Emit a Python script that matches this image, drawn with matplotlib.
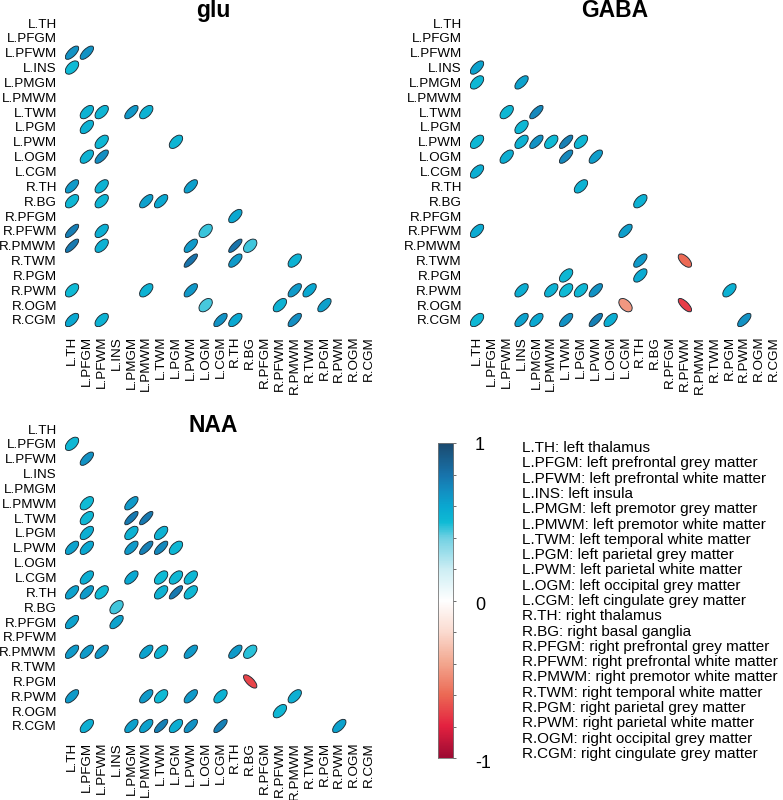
import numpy as np
import matplotlib
matplotlib.use('Agg')
import matplotlib.pyplot as plt
from matplotlib.patches import Ellipse
from matplotlib.colors import LinearSegmentedColormap

plt.rcParams['font.family'] = ['Liberation Sans', 'DejaVu Sans']

regions = ['L.TH', 'L.PFGM', 'L.PFWM', 'L.INS', 'L.PMGM', 'L.PMWM', 'L.TWM',
           'L.PGM', 'L.PWM', 'L.OGM', 'L.CGM', 'R.TH', 'R.BG', 'R.PFGM',
           'R.PFWM', 'R.PMWM', 'R.TWM', 'R.PGM', 'R.PWM', 'R.OGM', 'R.CGM']

descriptions = ['left thalamus', 'left prefrontal grey matter', 'left prefrontal white matter',
                'left insula', 'left premotor grey matter', 'left premotor white matter',
                'left temporal white matter', 'left parietal grey matter',
                'left parietal white matter', 'left occipital grey matter',
                'left cingulate grey matter', 'right thalamus', 'right basal ganglia',
                'right prefrontal grey matter', 'right prefrontal white matter',
                'right premotor white matter', 'right temporal white matter',
                'right parietal grey matter', 'right parietal white matter',
                'right occipital grey matter', 'right cingulate grey matter']

# significant correlations only (row index, column index, r)
glu_rows = [2, 2, 3, 6, 6, 6, 6, 7, 8, 8, 9, 9, 11, 11, 11, 12, 12, 12, 12, 13,
            14, 14, 14, 15, 15, 15, 15, 15, 16, 16, 16, 18, 18, 18, 18, 18,
            19, 19, 19, 20, 20, 20, 20, 20]
glu_cols = [0, 1, 0, 1, 2, 4, 5, 1, 2, 7, 1, 2, 0, 2, 8, 0, 2, 5, 6, 11,
            0, 2, 9, 0, 2, 8, 11, 12, 8, 11, 15, 0, 5, 8, 15, 16,
            9, 14, 17, 0, 2, 10, 11, 15]
glu_r = [0.68, 0.68, 0.50, 0.54, 0.53, 0.66, 0.54, 0.55, 0.52, 0.53, 0.54, 0.70,
         0.65, 0.54, 0.63, 0.52, 0.53, 0.63, 0.60, 0.60,
         0.76, 0.56, 0.46, 0.78, 0.55, 0.65, 0.80, 0.45, 0.80, 0.65, 0.54,
         0.50, 0.54, 0.66, 0.65, 0.60, 0.44, 0.54, 0.63, 0.60, 0.54, 0.68, 0.60, 0.70]

gaba_rows = [3, 4, 4, 6, 6, 7, 8, 8, 8, 8, 8, 8, 9, 9, 9, 10, 11, 12, 14, 14,
             16, 16, 17, 17, 18, 18, 18, 18, 18, 18, 19, 19,
             20, 20, 20, 20, 20, 20, 20]
gaba_cols = [0, 0, 3, 2, 4, 3, 0, 3, 4, 5, 6, 7, 2, 6, 8, 0, 7, 11, 0, 10,
             11, 14, 6, 11, 3, 5, 6, 7, 8, 17, 10, 14,
             0, 3, 4, 6, 8, 9, 18]
gaba_r = [0.62, 0.52, 0.62, 0.52, 0.72, 0.52, 0.52, 0.54, 0.68, 0.50, 0.75, 0.52,
          0.57, 0.72, 0.64, 0.57, 0.54, 0.55, 0.58, 0.64,
          0.65, -0.60, 0.52, 0.58, 0.57, 0.54, 0.50, 0.52, 0.68, 0.55, -0.45, -0.72,
          0.52, 0.62, 0.60, 0.68, 0.75, 0.57, 0.68]

naa_rows = [1, 2, 5, 5, 6, 6, 6, 7, 7, 7, 8, 8, 8, 8, 8, 8, 10, 10, 10, 10, 10,
            11, 11, 11, 11, 11, 11, 12, 13, 13, 15, 15, 15, 15, 15, 15, 15, 15,
            17, 18, 18, 18, 18, 18, 18, 19, 20, 20, 20, 20, 20, 20, 20, 20]
naa_cols = [0, 1, 1, 4, 1, 4, 5, 1, 4, 6, 0, 1, 4, 5, 6, 7, 1, 4, 6, 7, 8,
            0, 1, 2, 6, 7, 8, 3, 0, 3, 0, 1, 2, 5, 6, 8, 11, 12,
            12, 0, 5, 6, 8, 10, 15, 14, 1, 4, 5, 6, 7, 8, 10, 18]
naa_r = [0.52, 0.68, 0.50, 0.65, 0.52, 0.78, 0.78, 0.57, 0.54, 0.54,
         0.62, 0.60, 0.65, 0.75, 0.72, 0.52, 0.57, 0.60, 0.50, 0.52, 0.52,
         0.62, 0.65, 0.50, 0.54, 0.78, 0.52, 0.45, 0.62, 0.62,
         0.65, 0.65, 0.65, 0.62, 0.54, 0.65, 0.65, 0.47,
         -0.70, 0.65, 0.65, 0.50, 0.65, 0.54, 0.56, 0.52,
         0.56, 0.63, 0.62, 0.75, 0.57, 0.68, 0.75, 0.62]

# colour scale -1 .. 1
scale_r = [-1.0, -0.8, -0.6, -0.4, -0.2, 0.0, 0.2, 0.4, 0.5, 0.6, 0.7, 0.8, 1.0]
scale_col = ['#9e0b33', '#e42240', '#ec6a55', '#f3a78f', '#fbdbd0', '#ffffff',
             '#cdeef4', '#72d1e3', '#0fbbd5', '#0aa8d1', '#138fc2', '#1874ac', '#1b4b70']
cmap = LinearSegmentedColormap.from_list(
    'corr', [((v + 1) / 2, c) for v, c in zip(scale_r, scale_col)])

W, H = 783, 800
fig = plt.figure(figsize=(W / 100, H / 100), dpi=100)
n = len(regions)
cell = 14.85


def px_axes(left, top, w, h):
    return fig.add_axes([left / W, 1 - (top + h) / H, w / W, h / H])


def corr_panel(x0, y0, rows, cols, vals, title, tx, ty):
    ax = px_axes(x0 - cell / 2, y0 - cell / 2, n * cell, n * cell)
    for i, j, r in zip(rows, cols, vals):
        a = np.arccos(r) / 2
        w = 0.9 * np.sqrt(2) * np.cos(a)
        h = 0.9 * np.sqrt(2) * np.sin(a)
        e = Ellipse((j, n - 1 - i), w, h, angle=45, facecolor=cmap((r + 1) / 2),
                    edgecolor='#1c2a33', linewidth=0.65)
        ax.add_patch(e)
    ax.set_xlim(-0.5, n - 0.5)
    ax.set_ylim(-0.5, n - 0.5)
    ax.set_xticks(range(n))
    ax.set_xticklabels(regions, rotation=90, fontsize=9.7)
    ax.set_yticks(range(n))
    ax.set_yticklabels(regions[::-1], fontsize=9.6)
    ax.tick_params(length=0)
    ax.tick_params(axis='x', pad=6)
    ax.tick_params(axis='y', pad=5.5)
    for s in ax.spines.values():
        s.set_visible(False)
    fig.text(tx / W, 1 - ty / H, title, fontsize=16.5, fontweight='bold',
             ha='center', va='baseline')
    return ax


corr_panel(72, 23, glu_rows, glu_cols, glu_r, 'glu', 213, 17)
corr_panel(477, 23, gaba_rows, gaba_cols, gaba_r, 'GABA', 615, 17)
corr_panel(72, 429, naa_rows, naa_cols, naa_r, 'NAA', 213, 432)

# colour bar
cax = px_axes(438, 443, 15, 315)
grad = np.linspace(-1, 1, 400).reshape(-1, 1)
cax.imshow(grad, cmap=cmap, aspect='auto', origin='lower', extent=(0, 1, -1, 1))
cax.set_xticks([])
cax.yaxis.tick_right()
cax.set_yticks(np.linspace(-1, 1, 11))
cax.set_yticklabels([])
cax.tick_params(axis='y', length=2.5, width=0.6, color='#555555', direction='out')
for s in cax.spines.values():
    s.set_color('#777777')
    s.set_linewidth(0.6)
for v, y in [(1, 446), (0, 606), (-1, 764)]:
    fig.text(475 / W, 1 - y / H, str(v), fontsize=13, ha='left', va='center')

# region legend
for k in range(n):
    y = 448 + k * 15.3
    fig.text(522 / W, 1 - y / H, regions[k] + ': ' + descriptions[k],
             fontsize=11, ha='left', va='center')

fig.savefig('out.png', dpi=100)
